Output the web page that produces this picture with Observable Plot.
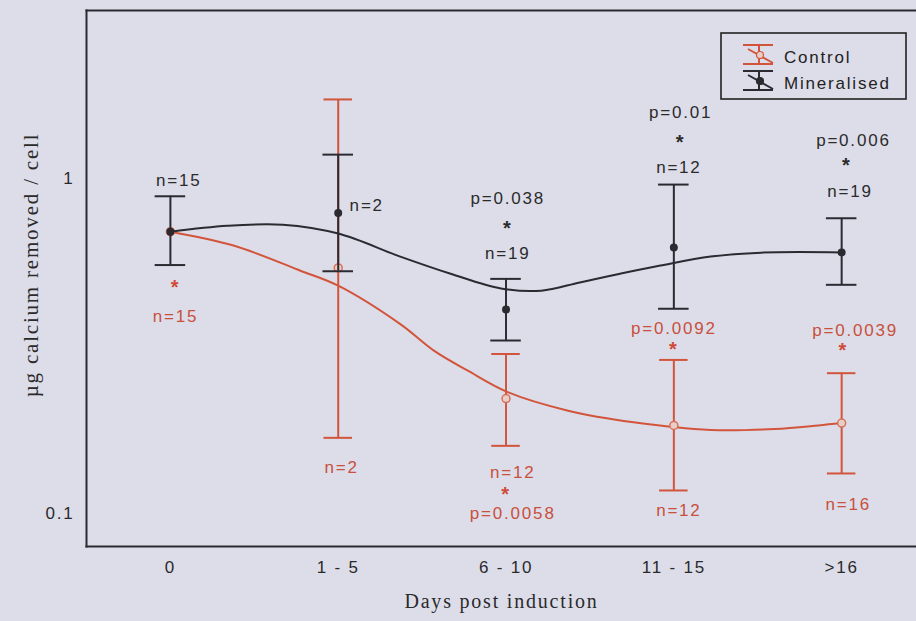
<!DOCTYPE html>
<html><head><meta charset="utf-8">
<script src="https://cdn.jsdelivr.net/npm/d3@7"></script>
<script src="https://cdn.jsdelivr.net/npm/@observablehq/plot@0.6"></script>
<style>
html,body{margin:0;padding:0;background:#dddde9;overflow:hidden;}
#chart svg text{letter-spacing:1.8px;}
</style></head><body><div id="chart"></div>
<script>
// ---- data ----
const categories = ["0", "1 - 5", "6 - 10", "11 - 15", ">16"];
const categoryIndex = [0, 1, 2, 3, 4];
const yTicks = [0.1, 1];
const yTickLabels = ["0.1", "1"];

const mineralMean = [0.693, 0.788, 0.406, 0.622, 0.601];
const mineralLow  = [0.551, 0.528, 0.328, 0.408, 0.481];
const mineralHigh = [0.884, 1.177, 0.501, 0.958, 0.760];

const controlMean = [0.693, 0.540, 0.220, 0.183, 0.186];
const controlLow  = [null, 0.168, 0.159, 0.117, 0.1315];
const controlHigh = [null, 1.72, 0.299, 0.287, 0.262];

const mineralFitX = [0, 0.34, 0.67, 1.0, 1.37, 1.67, 1.97, 2.21, 2.44, 2.68, 2.92, 3.22, 3.52, 4.0];
const mineralFitY = [0.693, 0.722, 0.727, 0.684, 0.584, 0.519, 0.469, 0.462, 0.489, 0.519, 0.549, 0.584, 0.600, 0.601];
const controlFitX = [0, 0.376, 0.775, 1.0, 1.37, 1.57, 1.77, 2.01, 2.37, 2.76, 3.22, 3.6, 3.86, 4.0];
const controlFitY = [0.693, 0.630, 0.530, 0.478, 0.367, 0.306, 0.267, 0.230, 0.2025, 0.187, 0.1774, 0.1786, 0.183, 0.186];

const annoText  = ["n=15", "n=2", "p=0.038", "*", "n=19", "p=0.01", "*", "n=12", "p=0.006", "*", "n=19",
                   "*", "n=15", "n=2", "n=12", "*", "p=0.0058", "p=0.0092", "*", "n=12", "p=0.0039", "*", "n=16"];
const annoX     = [0.05, 1.17, 2.01, 2.01, 2.01, 3.04, 3.04, 3.03, 4.07, 4.03, 4.05,
                   0.03, 0.03, 1.02, 2.04, 2.0, 2.04, 3.0, 3.0, 3.03, 4.08, 4.01, 4.04];
const annoY     = [0.984, 0.829, 0.872, 0.718, 0.597, 1.574, 1.296, 1.078, 1.296, 1.104, 0.915,
                   0.478, 0.387, 0.137, 0.1326, 0.1156, 0.0996, 0.355, 0.313, 0.102, 0.351, 0.31, 0.106];
const annoGroup = ["Mineralised","Mineralised","Mineralised","Mineralised","Mineralised","Mineralised","Mineralised","Mineralised","Mineralised","Mineralised","Mineralised",
                   "Control","Control","Control","Control","Control","Control","Control","Control","Control","Control","Control","Control"];

const seriesNames = ["Control", "Mineralised"];
const xLabel = "Days post induction";
const yLabel = "\u00b5g calcium removed / cell";

// ---- build tables ----
const BLACK = "#2a2a30", RED = "#d2553b", REDTXT = "#c8503c";
const mineral = categoryIndex.map(i => ({x: i, m: mineralMean[i], lo: mineralLow[i], hi: mineralHigh[i]}));
const control = categoryIndex.map(i => ({x: i, m: controlMean[i], lo: controlLow[i], hi: controlHigh[i]}));
const controlBars = control.filter(d => d.lo != null);
const mineralFit = mineralFitX.map((x, i) => ({x, y: mineralFitY[i]}));
const controlFit = controlFitX.map((x, i) => ({x, y: controlFitY[i]}));
const annos = annoText.map((t, i) => ({t, x: annoX[i], y: annoY[i], g: annoGroup[i]}));
const star = annos.filter(d => d.t === "*");
const words = annos.filter(d => d.t !== "*");
const capW = 0.085;

const FONT = "Liberation Sans, Arial, sans-serif";
const SERIF = "Liberation Serif, Times New Roman, serif";

const plot = Plot.plot({
  width: 916, height: 621,
  marginLeft: 86, marginTop: 10, marginBottom: 75, marginRight: 0,
  style: {background: "#dddde9", fontFamily: FONT, fontSize: "17px", color: "#2a2a2a"},
  x: {type: "linear", domain: [-0.5, 4.446]},
  y: {type: "log", domain: [0.0796, 3.17]},
  marks: [
    Plot.axisX({ticks: categoryIndex, tickFormat: i => categories[i], tickSize: 0, tickPadding: 14, label: null, fontSize: 17}),
    Plot.axisY({ticks: yTicks, tickFormat: d => yTickLabels[yTicks.indexOf(d)], tickSize: 0, tickPadding: 12, label: null, fontSize: 17}),
    Plot.frame({anchor: "left", stroke: BLACK, strokeWidth: 2}),
    Plot.frame({anchor: "top", stroke: BLACK, strokeWidth: 2}),
    Plot.frame({anchor: "bottom", stroke: BLACK, strokeWidth: 2}),
    // control
    Plot.line(controlFit, {x: "x", y: "y", stroke: RED, strokeWidth: 2, curve: "catmull-rom"}),
    Plot.ruleX(controlBars, {x: "x", y1: "lo", y2: "hi", stroke: RED, strokeWidth: 2}),
    Plot.ruleY(controlBars, {y: "lo", x1: d => d.x - capW, x2: d => d.x + capW, stroke: RED, strokeWidth: 2}),
    Plot.ruleY(controlBars, {y: "hi", x1: d => d.x - capW, x2: d => d.x + capW, stroke: RED, strokeWidth: 2}),
    Plot.dot(control, {x: "x", y: "m", r: 4, stroke: "#d9705a", fill: "#e6cfc6", strokeWidth: 1.5}),
    // mineralised
    Plot.line(mineralFit, {x: "x", y: "y", stroke: BLACK, strokeWidth: 2, curve: "catmull-rom"}),
    Plot.ruleX(mineral, {x: "x", y1: "lo", y2: "hi", stroke: BLACK, strokeWidth: 2}),
    Plot.ruleY(mineral, {y: "lo", x1: d => d.x - capW * 1.07, x2: d => d.x + capW * 1.07, stroke: BLACK, strokeWidth: 2}),
    Plot.ruleY(mineral, {y: "hi", x1: d => d.x - capW * 1.07, x2: d => d.x + capW * 1.07, stroke: BLACK, strokeWidth: 2}),
    Plot.dot(mineral, {x: "x", y: "m", r: 4, fill: BLACK}),
    // annotations
    Plot.text(words, {x: "x", y: "y", text: "t", fill: d => d.g === "Control" ? REDTXT : "#2b2b2b", fontSize: 17, fontFamily: FONT}),
    Plot.text(star, {x: "x", y: "y", text: "t", fill: d => d.g === "Control" ? "#d04a38" : "#2b2b2b", fontSize: 20, dy: 2, fontWeight: "bold", fontFamily: FONT}),
    // x title
    Plot.text([xLabel], {frameAnchor: "bottom", dy: 61, fontFamily: SERIF, fontSize: 20, fill: "#2a2a2a"})
  ]
});
document.getElementById("chart").appendChild(plot);

const svg = d3.select(plot);
// y title
svg.append("text").attr("transform", "translate(31,265) rotate(-90)")
  .attr("text-anchor", "middle").attr("dy", "0.35em")
  .attr("font-family", SERIF).attr("font-size", 21).attr("letter-spacing", "1.9px")
  .attr("fill", "#2a2a2a").text(yLabel);

// legend (inside the plot, top-right)
const lg = svg.append("g").attr("class", "legend");
lg.append("rect").attr("x", 721).attr("y", 33).attr("width", 185).attr("height", 66)
  .attr("fill", "none").attr("stroke", "#222").attr("stroke-width", 1.6);
const glyph = (g, y0, color, open) => {
  g.append("path").attr("d", `M743,${y0}H773M748,${y0 + 4}L773,${y0 + 18}M743,${y0 + 19}H773M759,${y0}V${y0 + 19}`)
    .attr("stroke", color).attr("stroke-width", 2).attr("fill", "none");
  g.append("circle").attr("cx", 760).attr("cy", y0 + 10).attr("r", 3.5)
    .attr("fill", open ? "#e6cfc6" : color).attr("stroke", color).attr("stroke-width", 1.2);
};
glyph(lg, 45, RED, true);
glyph(lg, 71, BLACK, false);
seriesNames.forEach((s, i) => {
  lg.append("text").attr("x", 784).attr("y", 57 + i * 26).attr("dy", "0.35em")
    .attr("text-anchor", "start")
    .attr("font-family", FONT).attr("font-size", 17).attr("letter-spacing", "0.6px").attr("fill", "#222").text(s);
});
</script></body></html>
